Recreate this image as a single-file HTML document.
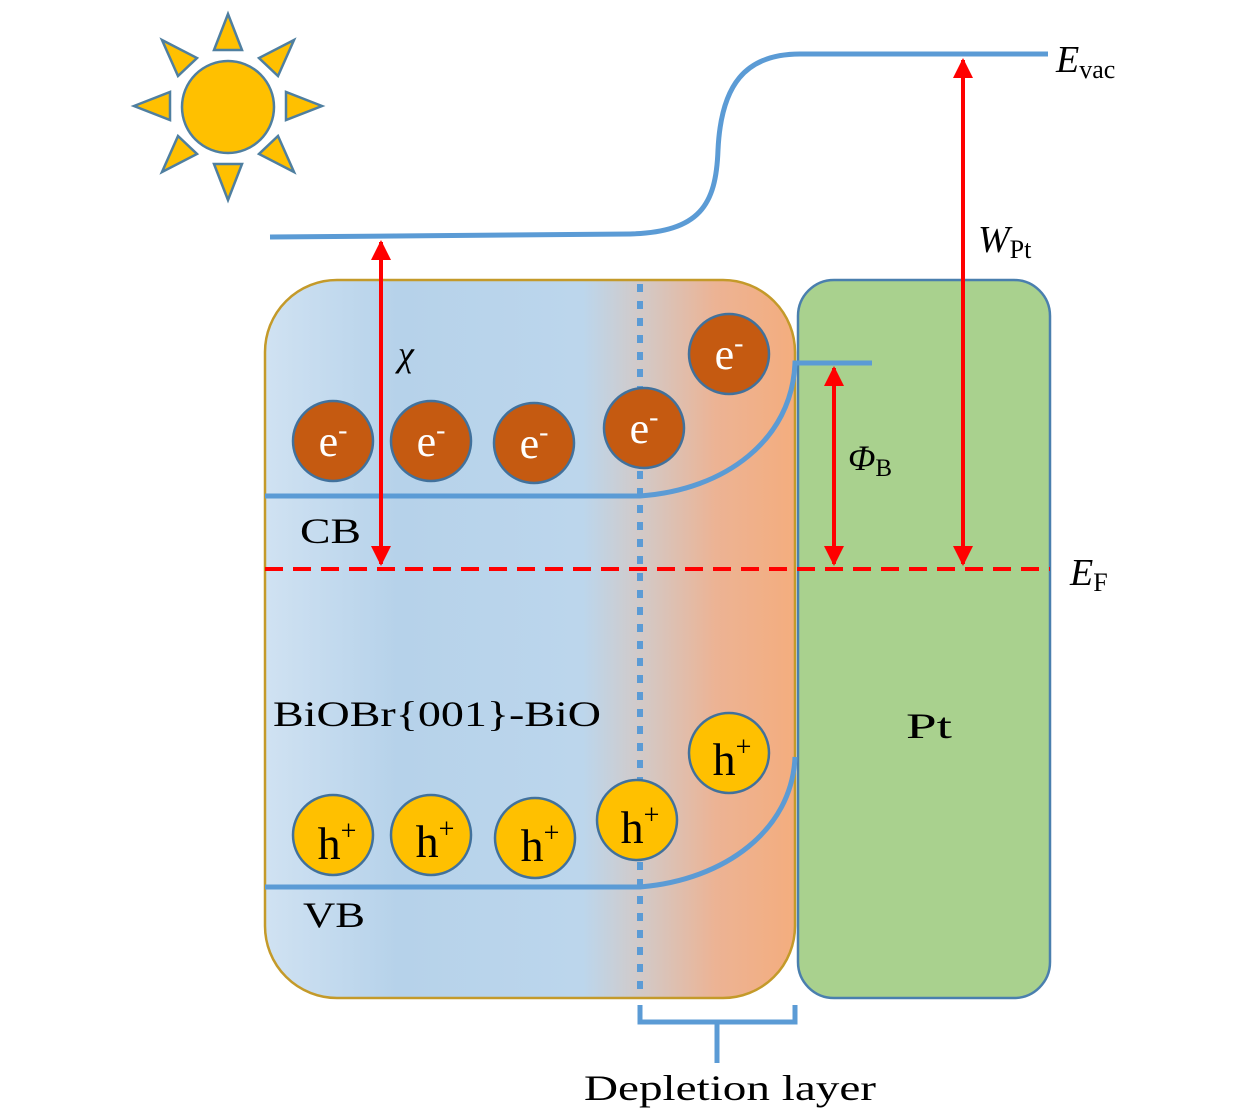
<!DOCTYPE html>
<html><head><meta charset="utf-8"><style>
html,body{margin:0;padding:0;background:#fff;width:1260px;height:1118px;overflow:hidden}
text{font-family:"Liberation Serif",serif}
</style></head><body>
<svg width="1260" height="1118" viewBox="0 0 1260 1118" xmlns="http://www.w3.org/2000/svg">
<defs>
<linearGradient id="sg" x1="265" y1="0" x2="795" y2="0" gradientUnits="userSpaceOnUse">
<stop offset="0" stop-color="#d0e2f2"/>
<stop offset="0.25" stop-color="#b6d2ea"/>
<stop offset="0.6" stop-color="#bcd6ec"/>
<stop offset="0.72" stop-color="#d4c8c4"/>
<stop offset="0.85" stop-color="#ecb394"/>
<stop offset="1" stop-color="#f4ad7e"/>
</linearGradient>
<marker id="ah" viewBox="0 0 10 10" refX="9" refY="5" markerWidth="5" markerHeight="5" orient="auto-start-reverse" markerUnits="strokeWidth">
<path d="M0,0 L10,5 L0,10 z" fill="#ff0000"/>
</marker>
</defs>
<g fill="#ffc000" stroke="#4f7fa0" stroke-width="2.5">
<circle cx="228" cy="107" r="46"/>
<polygon points="228,14 214,50 242,50"/>
<polygon points="228,200 214,164 242,164"/>
<polygon points="134,106 170,92 170,120"/>
<polygon points="322,106 286,92 286,120"/>
<polygon points="162,40 197,58 178,76"/>
<polygon points="294,40 259,58 278,76"/>
<polygon points="162,172 197,154 178,136"/>
<polygon points="294,172 259,154 278,136"/>
</g>
<rect x="265" y="280" width="530" height="718" rx="72" fill="url(#sg)" stroke="#c49a2a" stroke-width="2.5"/>
<rect x="798" y="280" width="252" height="718" rx="36" fill="#a9d18e" stroke="#4a7fae" stroke-width="2.5"/>
<line x1="640" y1="284" x2="640" y2="996" stroke="#5b9bd5" stroke-width="6" stroke-dasharray="8,9"/>
<g fill="none" stroke="#5b9bd5" stroke-width="5">
<path d="M270,237 L630,234 C700,232 716,205 718,150 C721,85 745,54 800,54 L1048,54"/>
<path d="M265,496 L640,496 C725,490 792,440 795,363 L872,363"/>
<path d="M265,887 L640,887 C725,880 792,830 795,757"/>
<path d="M640,1005 L640,1022 L795,1022 L795,1005 M717,1022 L717,1063"/>
</g>
<line x1="265" y1="569" x2="1050" y2="569" stroke="#ff0000" stroke-width="4" stroke-dasharray="18,10"/>
<g stroke="#ff0000" stroke-width="4" marker-start="url(#ah)" marker-end="url(#ah)">
<line x1="381" y1="242" x2="381" y2="564"/>
<line x1="834" y1="368" x2="834" y2="564"/>
<line x1="963" y1="60" x2="963" y2="564"/>
</g>
<g fill="#c55a11" stroke="#41719c" stroke-width="2.5">
<circle cx="333" cy="441" r="40"/><circle cx="431" cy="441" r="40"/><circle cx="534" cy="443" r="40"/><circle cx="644" cy="428" r="40"/><circle cx="729" cy="354" r="40"/>
</g>
<g fill="#fff" font-size="44" text-anchor="middle">
<text x="333" y="456">e<tspan font-size="28" dy="-17">-</tspan></text>
<text x="431" y="456">e<tspan font-size="28" dy="-17">-</tspan></text>
<text x="534" y="458">e<tspan font-size="28" dy="-17">-</tspan></text>
<text x="644" y="443">e<tspan font-size="28" dy="-17">-</tspan></text>
<text x="729" y="369">e<tspan font-size="28" dy="-17">-</tspan></text>
</g>
<g fill="#ffc000" stroke="#41719c" stroke-width="2.5">
<circle cx="333" cy="835" r="40"/><circle cx="431" cy="835" r="40"/><circle cx="535" cy="838" r="40"/><circle cx="637" cy="820" r="40"/><circle cx="729" cy="753" r="40"/>
</g>
<g fill="#000" font-size="46" text-anchor="middle">
<text x="337" y="859">h<tspan font-size="28" dy="-19">+</tspan></text>
<text x="435" y="857">h<tspan font-size="28" dy="-19">+</tspan></text>
<text x="540" y="861">h<tspan font-size="28" dy="-19">+</tspan></text>
<text x="640" y="843">h<tspan font-size="28" dy="-19">+</tspan></text>
<text x="732" y="775">h<tspan font-size="28" dy="-19">+</tspan></text>
</g>
<g fill="#000" font-size="36">
<text x="398" y="366" font-style="italic">χ</text>
<text x="300" y="543" textLength="61" lengthAdjust="spacingAndGlyphs">CB</text>
<text x="303" y="927" textLength="62" lengthAdjust="spacingAndGlyphs">VB</text>
<text x="273" y="726" textLength="328" lengthAdjust="spacingAndGlyphs">BiOBr{001}-BiO</text>
<text x="906" y="738" textLength="46" lengthAdjust="spacingAndGlyphs">Pt</text>
<text x="584" y="1100" textLength="292" lengthAdjust="spacingAndGlyphs">Depletion layer</text>
<text x="848" y="470" font-style="italic">Φ<tspan font-style="normal" font-size="25" dy="6">B</tspan></text>
<text x="978" y="252" font-style="italic" font-size="38">W<tspan font-style="normal" font-size="26" dy="6">Pt</tspan></text>
<text x="1056" y="72" font-style="italic" font-size="38">E<tspan font-style="normal" font-size="26" dy="6">vac</tspan></text>
<text x="1070" y="585" font-style="italic" font-size="38">E<tspan font-style="normal" font-size="26" dy="6">F</tspan></text>
</g>
</svg>
</body></html>
